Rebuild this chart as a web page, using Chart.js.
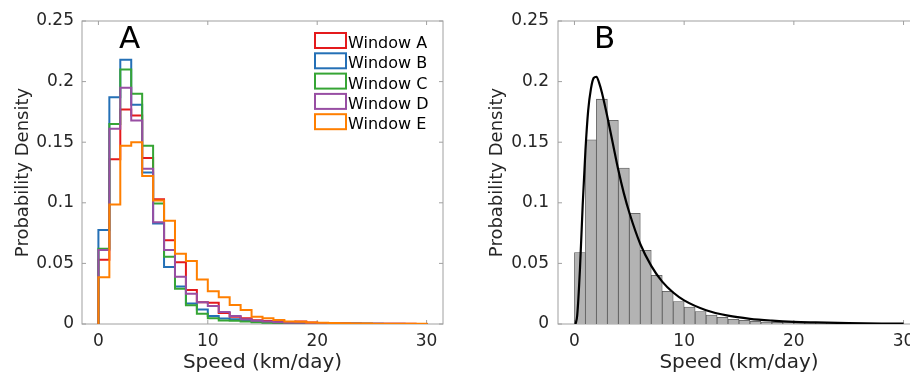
<!DOCTYPE html>
<html>
<head>
<meta charset="UTF-8">
<title>speed histograms</title>
<script src="https://cdn.jsdelivr.net/npm/chart.js"></script>
<style>
body{margin:0; width:910px; height:375px; overflow:hidden; background:#fff; position:relative;}
#boxA{position:absolute; left:0; top:0; width:460px; height:375px;}
#boxB{position:absolute; left:460px; top:0; width:480px; height:375px;}
</style>
<script>
// bins of 1 km/day, left edges
var binLeft = [0,1,2,3,4,5,6,7,8,9,10,11,12,13,14,15,16,17,18,19,20,21,22,23,24,25,26,27,28,29];
var binWidth = 1;

// panel A - probability density per window
var windowA = [0.053,0.136,0.177,0.172,0.137,0.103,0.069,0.051,0.028,0.018,0.0176,0.009,0.006,0.0047,0.003,0.0025,0.0018,0.0012,0.002,0.0012,0.0008,0.0005,0.0004,0.0004,0.0003,0.0003,0.0002,0.0002,0.0002,0.0001];
var windowB = [0.0776,0.187,0.218,0.181,0.125,0.083,0.047,0.031,0.017,0.012,0.0066,0.0045,0.004,0.003,0.002,0.0015,0.001,0.0008,0.0006,0.0005,0.0004,0.0003,0.0003,0.0002,0.0002,0.0002,0.0001,0.0001,0.0001,0.0001];
var windowC = [0.062,0.165,0.210,0.190,0.147,0.0995,0.0555,0.029,0.0155,0.0085,0.0047,0.0028,0.0027,0.002,0.0015,0.001,0.0008,0.0006,0.0004,0.0004,0.0003,0.0003,0.0002,0.0002,0.0002,0.0001,0.0001,0.0001,0.0001,0.0001];
var windowD = [0.061,0.161,0.195,0.168,0.128,0.084,0.061,0.039,0.025,0.018,0.0148,0.010,0.0066,0.004,0.0027,0.002,0.0015,0.001,0.001,0.0008,0.0006,0.0005,0.0004,0.0003,0.0003,0.0002,0.0002,0.0002,0.0001,0.0001];
var windowE = [0.0385,0.0985,0.147,0.150,0.1222,0.102,0.0852,0.058,0.052,0.0368,0.027,0.022,0.0157,0.0115,0.006,0.0047,0.0033,0.002,0.0018,0.0012,0.001,0.0008,0.0006,0.0005,0.0004,0.0003,0.0003,0.0002,0.0002,0.0002];
var windowNames = ['Window A','Window B','Window C','Window D','Window E'];
var windowColors = ['#e41a1c','#2470b6','#36a535','#984ea3','#ff7f00'];

// panel B - all windows pooled + fitted curve
var pooled = [0.059,0.152,0.1855,0.168,0.1286,0.0914,0.0608,0.0402,0.027,0.0186,0.014,0.0102,0.0074,0.0055,0.0039,0.003,0.0022,0.0016,0.0014,0.0011,0.0008,0.0006,0.0005,0.0004,0.0003,0.0003,0.0002,0.0002,0.0002,0.0001];
var fitX = [0.1,0.25,0.5,0.75,1,1.25,1.5,1.75,2,2.25,2.5,3,3.5,4,4.5,5,6,7,8,9,10,12,14,16,18,20,22,25,28,30];
var fitY = [0,0.007,0.045,0.098,0.143,0.176,0.194,0.203,0.204,0.199,0.191,0.171,0.149,0.127,0.108,0.092,0.066,0.048,0.035,0.026,0.0195,0.0114,0.0069,0.0043,0.0028,0.0018,0.0013,0.0007,0.0004,0.0003];

var xTicks = [0,10,20,30];
var yTicks = [0,0.05,0.1,0.15,0.2,0.25];
var yTickLabels = ['0','0.05','0.1','0.15','0.2','0.25'];
</script>
</head>
<body>
<div id="boxA"><canvas id="chartA" width="460" height="375"></canvas></div>
<div id="boxB"><canvas id="chartB" width="480" height="375"></canvas></div>
<script>
Chart.defaults.font.family = '"DejaVu Sans", sans-serif';
Chart.defaults.color = '#262626';

function stairs(vals){
	var pts = [{x: binLeft[0], y: 0}];
	vals.forEach(function(v, i){ pts.push({x: binLeft[i], y: v}); });
	pts.push({x: binLeft[binLeft.length-1] + binWidth, y: 0});
	return pts;
}

// box round the plot with inward ticks
var frame = {
	id: 'frame',
	beforeDatasetsDraw: function(chart){
		var ctx = chart.ctx, a = chart.chartArea, x = chart.scales.x, y = chart.scales.y;
		ctx.save();
		ctx.strokeStyle = '#a0a0a0';
		ctx.lineWidth = 1;
		ctx.strokeRect(a.left, a.top, a.right - a.left, a.bottom - a.top);
		ctx.beginPath();
		x.ticks.forEach(function(t){
			var p = x.getPixelForValue(t.value);
			ctx.moveTo(p, a.bottom); ctx.lineTo(p, a.bottom - 4);
			ctx.moveTo(p, a.top); ctx.lineTo(p, a.top + 4);
		});
		y.ticks.forEach(function(t){
			var p = y.getPixelForValue(t.value);
			ctx.moveTo(a.left, p); ctx.lineTo(a.left + 4, p);
			ctx.moveTo(a.right, p); ctx.lineTo(a.right - 4, p);
		});
		ctx.stroke();
		ctx.restore();
	}
};

// big panel letter
var panelLetter = {
	id: 'panelLetter',
	afterDraw: function(chart, args, o){
		var ctx = chart.ctx;
		ctx.save();
		ctx.font = '31px "DejaVu Sans"';
		ctx.fillStyle = '#000';
		ctx.textAlign = 'center';
		ctx.textBaseline = 'alphabetic';
		ctx.fillText(o.text, chart.scales.x.getPixelForValue(o.x), chart.scales.y.getPixelForValue(o.y));
		ctx.restore();
	}
};

// matlab style legend inside the axes
var boxLegend = {
	id: 'boxLegend',
	afterDraw: function(chart, args, o){
		if(!o.show) return;
		var ctx = chart.ctx, a = chart.chartArea;
		ctx.save();
		ctx.font = '16px "DejaVu Sans"';
		ctx.textBaseline = 'alphabetic';
		chart.data.datasets.forEach(function(ds, i){
			var bx = a.right - 128, by = a.top + 12 + i * 20.3;
			ctx.fillStyle = '#fff';
			ctx.fillRect(bx, by, 31, 15);
			ctx.strokeStyle = ds.borderColor;
			ctx.lineWidth = 2;
			ctx.strokeRect(bx, by, 31, 15);
			ctx.fillStyle = '#000';
			ctx.fillText(ds.label, bx + 33, by + 15);
		});
		ctx.restore();
	}
};

function scales(yWidth, yTitlePad, yTickPad){
	return {
		x: {
			type: 'linear', min: -1.5, max: 31.5, offset: false,
			grid: {display: false, drawTicks: false},
			border: {display: false},
			afterBuildTicks: function(s){ s.ticks = xTicks.map(function(v){ return {value: v}; }); },
			afterFit: function(s){ s.height = 51; },
			ticks: {font: {size: 17}, padding: 7, maxRotation: 0, autoSkip: false},
			title: {display: true, text: 'Speed (km/day)', font: {size: 20, lineHeight: 1}, padding: {top: 0, bottom: 2}}
		},
		y: {
			min: 0, max: 0.25,
			grid: {display: false, drawTicks: false},
			border: {display: false},
			afterBuildTicks: function(s){ s.ticks = yTicks.map(function(v){ return {value: v}; }); },
			afterFit: function(s){ s.width = yWidth; },
			ticks: {font: {size: 17}, padding: yTickPad, callback: function(v, i){ return yTickLabels[i]; }},
			title: {display: true, text: 'Probability Density', font: {size: 18, lineHeight: 1}, padding: {top: yTitlePad, bottom: 0}}
		}
	};
}

var dataA = [windowA, windowB, windowC, windowD, windowE];
new Chart(document.getElementById('chartA'), {
	type: 'line',
	data: {
		datasets: dataA.map(function(vals, i){
			return {
				label: windowNames[i],
				data: stairs(vals),
				borderColor: windowColors[i],
				borderWidth: 2,
				stepped: 'before',
				pointRadius: 0,
				fill: false,
				order: 4 - i
			};
		})
	},
	options: {
		responsive: false, animation: false, devicePixelRatio: 1,
		layout: {padding: {left: 0, right: 17, top: 21, bottom: 0}},
		plugins: {legend: {display: false}, tooltip: {enabled: false},
			panelLetter: {text: 'A', x: 2.85, y: 0.2275},
			boxLegend: {show: true}},
		scales: scales(82, 14, 8)
	},
	plugins: [frame, panelLetter, boxLegend]
});

new Chart(document.getElementById('chartB'), {
	type: 'bar',
	data: {
		datasets: [{
			type: 'line',
			label: 'fit',
			data: fitX.map(function(x, i){ return {x: x, y: fitY[i]}; }),
			borderColor: '#000',
			borderWidth: 2.2,
			pointRadius: 0,
			cubicInterpolationMode: 'monotone',
			fill: false,
			order: 0
		}, {
			type: 'bar',
			label: 'pooled',
			data: binLeft.map(function(x, i){ return {x: x + binWidth / 2, y: pooled[i]}; }),
			backgroundColor: '#b3b3b3',
			borderColor: '#555555',
			borderWidth: 0.8,
			barPercentage: 1,
			categoryPercentage: 1,
			order: 1
		}]
	},
	options: {
		responsive: false, animation: false, devicePixelRatio: 1,
		layout: {padding: {left: 0, right: 20, top: 21, bottom: 0}},
		plugins: {legend: {display: false}, tooltip: {enabled: false},
			panelLetter: {text: 'B', x: 2.74, y: 0.2275},
			boxLegend: {show: false}},
		scales: scales(98, 28, 9)
	},
	plugins: [frame, panelLetter, boxLegend]
});
</script>
</body>
</html>
